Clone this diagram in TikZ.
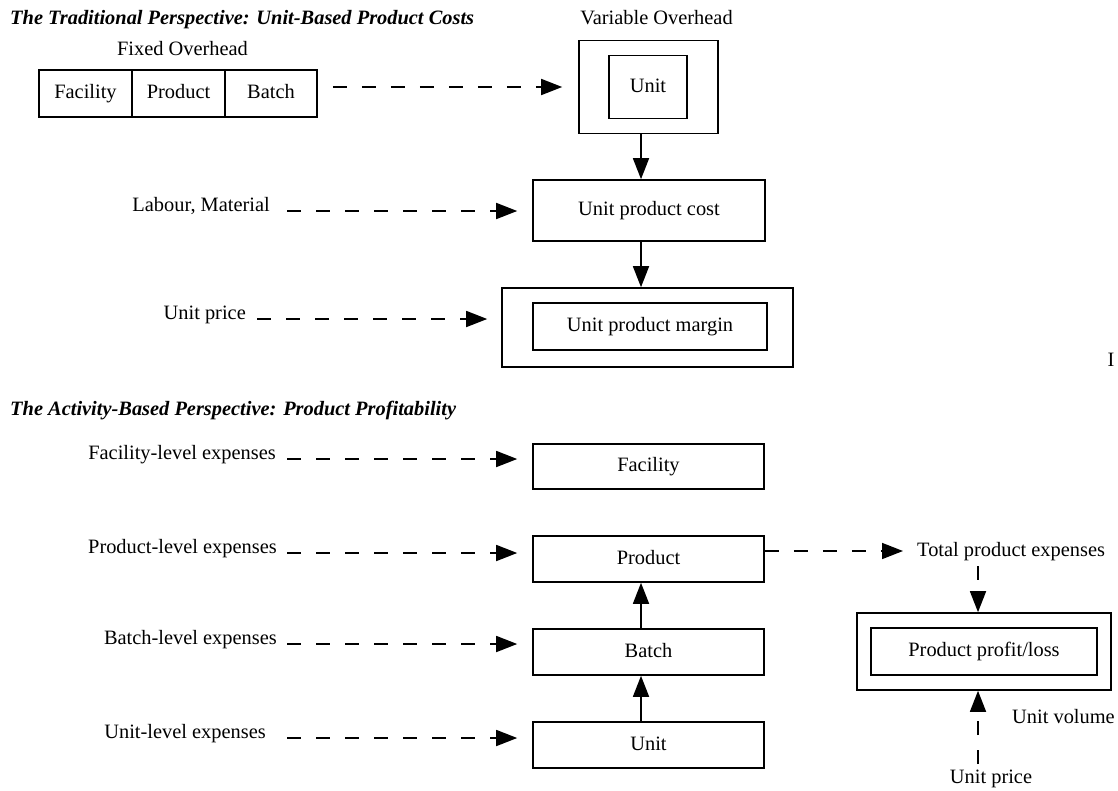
\documentclass[tikz,border=0pt]{standalone}
\usepackage{fontspec}
\setmainfont{Liberation Serif}
\usetikzlibrary{arrows.meta}
\begin{document}
\begin{tikzpicture}[x=1pt,y=-1pt,
  txt/.style={inner sep=0pt, font=\fontsize{20.4pt}{24pt}\selectfont},
  ttl/.style={txt, font=\fontsize{20.4pt}{24pt}\selectfont\bfseries\itshape},
  box/.style={txt, draw, line width=1.6pt, text height=14pt, text depth=4pt},
  dar/.style={line width=1.6pt, dash pattern=on 14pt off 15pt, -{Triangle[length=21pt,width=16pt]}},
  sar/.style={line width=1.6pt, -{Triangle[length=21pt,width=16pt]}}
]
\useasboundingbox[fill=white] (0,0) rectangle (1118,790);

% ---------- Traditional perspective ----------
\node[ttl, anchor=base west] (t1) at (10,24) {The Traditional Perspective: Unit-Based Product Costs};
\node[txt, anchor=base] (fo) at (182.5,55) {Fixed Overhead};
\node[box, minimum width=93pt, minimum height=47pt] (fac1) at (85.5,93.5) {Facility};
\node[box, minimum width=93pt, minimum height=47pt] (prod1) at (178.5,93.5) {Product};
\node[box, minimum width=92pt, minimum height=47pt] (bat1) at (271,93.5) {Batch};

\node[txt, anchor=base] (vov) at (656.5,24) {Variable Overhead};
\node[box, minimum width=139pt, minimum height=93pt] (vo) at (648.5,87) {};
\node[box, minimum width=78pt, minimum height=63pt] (vou) at (648,87) {Unit};

\node[box, minimum width=232pt, minimum height=61pt] (upc) at (649,210.5) {Unit product cost};
\node[box, minimum width=291pt, minimum height=79pt] (upm) at (647.5,327.5) {};
\node[box, minimum width=234pt, minimum height=47pt] (upmi) at (650,326.5) {Unit product margin};

\node[txt, anchor=base east] (lab) at (270,211) {Labour, Material};
\node[txt, anchor=base east] (up1) at (246,319) {Unit price};

\draw[dar, shorten <=15pt, shorten >=16pt] (bat1.east |- vo.west) -- (vo.west);
\draw[dar, shorten <=17pt, shorten >=15pt] (lab.base east) -- (lab.base east -| upc.west);
\draw[dar, shorten <=11pt, shorten >=14pt] (up1.base east) -- (up1.base east -| upm.west);

\coordinate (a1) at ([xshift=-7.5pt]vo.south);
\draw[sar] (a1) -- (a1 |- upc.north);
\coordinate (a2) at ([xshift=-8pt]upc.south);
\draw[sar] (a2) -- (a2 |- upm.north);

\node[txt] (stray) at (1111,360) {I};

% ---------- Activity-based perspective ----------
\node[ttl, anchor=base west] (t2) at (10,415) {The Activity-Based Perspective: Product Profitability};

\node[box, minimum width=231pt, minimum height=45pt] (fac2) at (648.5,466.5) {Facility};
\node[box, minimum width=231pt, minimum height=46pt] (prod2) at (648.5,559) {Product};
\node[box, minimum width=231pt, minimum height=46pt] (bat2) at (648.5,652) {Batch};
\node[box, minimum width=231pt, minimum height=46pt] (unit2) at (648.5,745) {Unit};

\node[txt, anchor=base east] (lfe) at (276,459) {Facility-level expenses};
\node[txt, anchor=base east] (lpe) at (277,553) {Product-level expenses};
\node[txt, anchor=base east] (lbe) at (277,644) {Batch-level expenses};
\node[txt, anchor=base east] (lue) at (266,738) {Unit-level expenses};

\draw[dar, shorten <=11pt, shorten >=15pt] (lfe.base east) -- (lfe.base east -| fac2.west);
\draw[dar, shorten <=10pt, shorten >=15pt] (lpe.base east) -- (lpe.base east -| prod2.west);
\draw[dar, shorten <=10pt, shorten >=15pt] (lbe.base east) -- (lbe.base east -| bat2.west);
\draw[dar, shorten <=21pt, shorten >=15pt] (lue.base east) -- (lue.base east -| unit2.west);

\coordinate (b1) at ([xshift=-7.5pt]unit2.north);
\draw[sar] (b1) -- (b1 |- bat2.south);
\coordinate (b2) at ([xshift=-7.5pt]bat2.north);
\draw[sar] (b2) -- (b2 |- prod2.south);

\node[txt, anchor=base west] (tpe) at (917,556) {Total product expenses};
\coordinate (pa) at ([yshift=8pt]prod2.east);
\draw[dar, shorten >=14pt] (pa) -- (pa -| tpe.west);

\node[box, minimum width=254pt, minimum height=77pt] (ppl) at (984,651.5) {};
\node[box, minimum width=226pt, minimum height=47pt] (ppli) at (984,651.5) {Product profit/loss};

\node[txt, anchor=base west] (uv) at (1012,723) {Unit volume};
\node[txt, anchor=base] (up2) at (991,783) {Unit price};

\coordinate (d1) at (978,566);
\draw[dar] (d1) -- (d1 |- ppl.north);
\coordinate (u1) at (978,764);
\draw[dar] (u1) -- (u1 |- ppl.south);
\end{tikzpicture}
\end{document}
